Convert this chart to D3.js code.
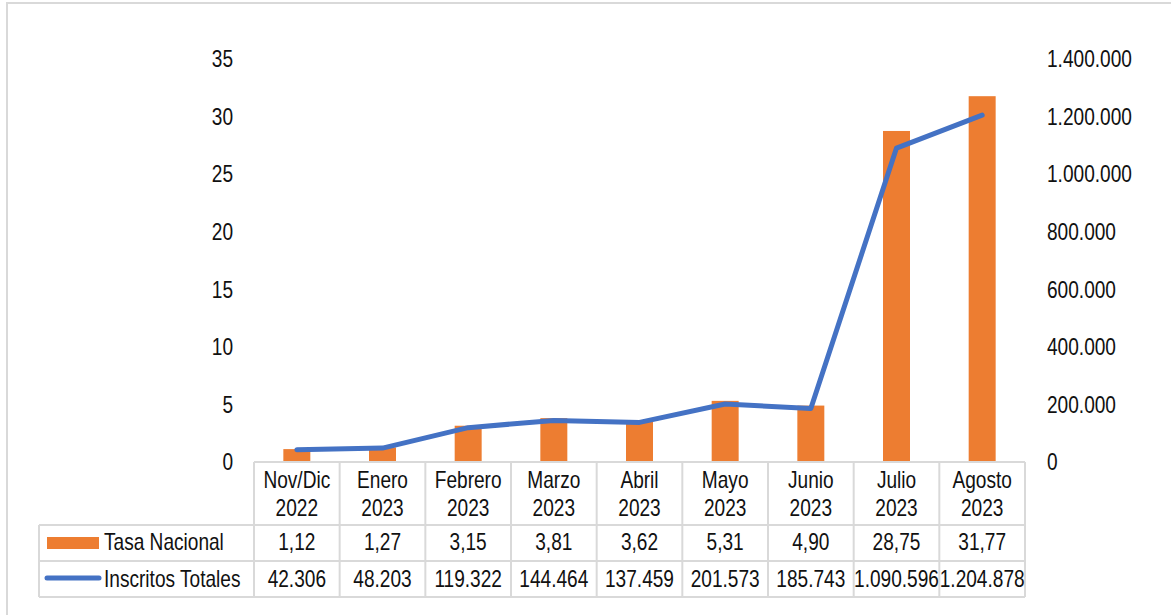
<!DOCTYPE html>
<html>
<head>
<meta charset="utf-8">
<script src="https://cdn.jsdelivr.net/npm/d3@7/dist/d3.min.js"></script>
<style>
  html, body { margin: 0; padding: 0; background: #fff; }
  svg { display: block; }
  text { font-family: "Liberation Sans", Arial, sans-serif; fill: #111; }
</style>
</head>
<body>
<svg id="chart" width="1171" height="615"></svg>
<script>
// Monthly national rate (bars, left axis) and total enrolments (line, right axis)
const months = ["Nov/Dic", "Enero", "Febrero", "Marzo", "Abril", "Mayo", "Junio", "Julio", "Agosto"];
const years = ["2022", "2023", "2023", "2023", "2023", "2023", "2023", "2023", "2023"];
const tasaNacional = [1.12, 1.27, 3.15, 3.81, 3.62, 5.31, 4.90, 28.75, 31.77];
const inscritosTotales = [42306, 48203, 119322, 144464, 137459, 201573, 185743, 1090596, 1204878];
const leftTicks = [0, 5, 10, 15, 20, 25, 30, 35];
const rightTicks = [0, 200000, 400000, 600000, 800000, 1000000, 1200000, 1400000];
const seriesNames = ["Tasa Nacional", "Inscritos Totales"];

const ORANGE = "#ED7D31";
const BLUE = "#4472C4";
const GRID = "#d9d9d9";
const FONT = 23;
const NARROW = 0.83; // condensed lettering

const es = d3.formatLocale({ decimal: ",", thousands: ".", grouping: [3], currency: ["", " €"] });
const fmtRate = es.format(",.2f");
const fmtInt = es.format(",.0f");

const svg = d3.select("#chart");

// condensed text placed at (x, y)
function label(parent, x, y, str, anchor, dy) {
  const g = parent.append("g").attr("transform", `translate(${x},${y}) scale(${NARROW},1)`);
  const t = g.append("text").attr("x", 0).attr("y", 0)
    .attr("text-anchor", anchor || "start").attr("font-size", FONT).text(str);
  if (dy) t.attr("dy", dy);
  return t;
}

// frame of the chart area
svg.append("rect")
  .attr("x", 7).attr("y", 3).attr("width", 1200).attr("height", 700)
  .attr("fill", "none").attr("stroke", GRID).attr("stroke-width", 2);

const plotTop = 59, plotBottom = 462;
const x = d3.scaleBand().domain(months).range([254, 1025]).padding(0);
const yL = d3.scaleLinear().domain([0, 35]).range([plotBottom, plotTop]);
const yR = d3.scaleLinear().domain([0, 1400000]).range([plotBottom, plotTop]);

// left axis labels
const gL = svg.append("g");
leftTicks.forEach(d => label(gL, 233, yL(d), String(d), "end", "0.36em"));

// right axis labels
const gR = svg.append("g");
rightTicks.forEach(d => label(gR, 1047, yR(d), fmtInt(d), "start", "0.36em"));

// bars
const barW = x.bandwidth() * 0.315;
svg.append("g").selectAll("rect").data(months).join("rect")
  .attr("x", (m) => x(m) + (x.bandwidth() - barW) / 2)
  .attr("width", barW)
  .attr("y", (m, i) => yL(tasaNacional[i]))
  .attr("height", (m, i) => plotBottom - yL(tasaNacional[i]))
  .attr("fill", ORANGE);

// line
const line = d3.line()
  .x((d, i) => x(months[i]) + x.bandwidth() / 2)
  .y(d => yR(d));
svg.append("path")
  .datum(inscritosTotales)
  .attr("d", line)
  .attr("fill", "none").attr("stroke", BLUE).attr("stroke-width", 5)
  .attr("stroke-linecap", "round").attr("stroke-linejoin", "round");

// data table
const tableLeft = 39, colLeft = 254, colRight = 1025;
const rowY = [462, 525, 561, 597];
const grid = svg.append("g").attr("stroke", GRID).attr("stroke-width", 2).attr("fill", "none");
grid.append("line").attr("x1", colLeft).attr("x2", colRight).attr("y1", rowY[0]).attr("y2", rowY[0]);
[rowY[1], rowY[2], rowY[3]].forEach(y => {
  grid.append("line").attr("x1", tableLeft).attr("x2", colRight).attr("y1", y).attr("y2", y);
});
grid.append("line").attr("x1", tableLeft).attr("x2", tableLeft).attr("y1", rowY[1]).attr("y2", rowY[3]);
const colEdges = months.map(m => x(m)).concat([colRight]);
colEdges.forEach(cx => {
  grid.append("line").attr("x1", cx).attr("x2", cx).attr("y1", rowY[0]).attr("y2", rowY[3]);
});

// header: month / year
const header = svg.append("g");
months.forEach((m, i) => {
  const cx = x(m) + x.bandwidth() / 2;
  label(header, cx, 488, m, "middle");
  label(header, cx, 516, years[i], "middle");
});

// value rows
const rows = svg.append("g");
months.forEach((m, i) => {
  const cx = x(m) + x.bandwidth() / 2;
  label(rows, cx, 550, fmtRate(tasaNacional[i]), "middle");
  label(rows, cx, 587, fmtInt(inscritosTotales[i]), "middle");
});

// legend keys in the table
svg.append("rect").attr("x", 47).attr("y", 537).attr("width", 52).attr("height", 12).attr("fill", ORANGE);
svg.append("line").attr("x1", 47).attr("x2", 99).attr("y1", 578).attr("y2", 578)
  .attr("stroke", BLUE).attr("stroke-width", 5).attr("stroke-linecap", "round");
const legend = svg.append("g");
label(legend, 104, 550, seriesNames[0], "start");
label(legend, 104, 587, seriesNames[1], "start");
</script>
</body>
</html>
